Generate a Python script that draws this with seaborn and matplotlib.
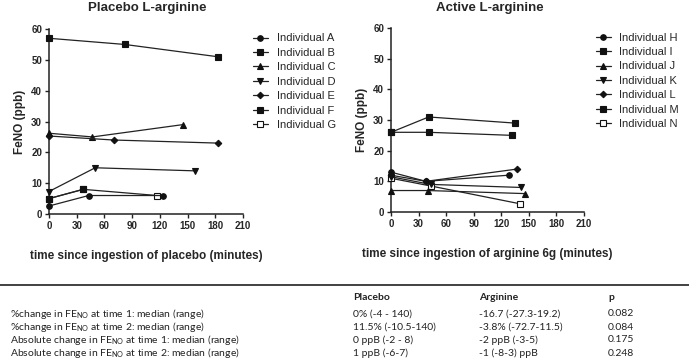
import matplotlib
matplotlib.use("Agg")
import matplotlib.pyplot as plt
import seaborn as sns

# placebo arm: time (min) and FeNO (ppb) per individual
placebo_names = ["Individual A", "Individual B", "Individual C", "Individual D",
                 "Individual E", "Individual F", "Individual G"]
placebo_t = [[0, 43, 123], [0, 82, 183], [0, 47, 145], [0, 50, 158],
             [0, 70, 183], [0, 37], [0, 37, 117]]
placebo_v = [[2.6, 6, 6], [57, 55, 51], [26.2, 25, 29], [7.3, 15, 14],
             [25.3, 24, 23], [5, 8], [5, 8, 6]]

# active arm
active_names = ["Individual H", "Individual I", "Individual J", "Individual K",
                "Individual L", "Individual M", "Individual N"]
active_t = [[0, 38, 128], [0, 41, 132], [0, 40, 146], [0, 43, 142],
            [0, 38, 137], [0, 41, 135], [0, 43, 140]]
active_v = [[13, 10, 12], [26, 26, 25], [7, 7, 6], [11.5, 9, 8],
            [12, 10, 14], [26, 31, 29], [11, 8.5, 2.7]]

markers = ["o", "s", "^", "v", "D", "s", "s"]
open_marker = [False, False, False, False, False, False, True]

# summary table
row_labels = ["%change in FE$_{\\mathregular{NO}}$ at time 1: median (range)",
              "%change in FE$_{\\mathregular{NO}}$ at time 2: median (range)",
              "Absolute change in FE$_{\\mathregular{NO}}$ at time 1: median (range)",
              "Absolute change in FE$_{\\mathregular{NO}}$ at time 2: median (range)"]
col_headers = ["Placebo", "Arginine", "p"]
placebo_col = ["0% (-4 - 140)", "11.5% (-10.5-140)", "0 ppB (-2 - 8)", "1 ppB (-6-7)"]
arginine_col = ["-16.7 (-27.3-19.2)", "-3.8% (-72.7-11.5)", "-2 ppB (-3-5)", "-1 (-8-3) ppB"]
p_col = ["0.082", "0.084", "0.175", "0.248"]

sns.set_style("ticks")
plt.rcParams["font.family"] = ["Liberation Sans", "DejaVu Sans"]
plt.rcParams["mathtext.default"] = "regular"

fig = plt.figure(figsize=(6.89, 3.62), dpi=100)
ax1 = fig.add_axes([0.0711, 0.4088, 0.2816, 0.511])
ax2 = fig.add_axes([0.5675, 0.4144, 0.2800, 0.508])


def draw_arm(ax, names, ts, vs, xlabel, legend_x):
    for i, name in enumerate(names):
        sns.lineplot(x=ts[i], y=vs[i], ax=ax, color="#222222", lw=0.9,
                     marker=markers[i], markersize=4 if markers[i] != "D" else 3.3,
                     markeredgecolor="#111111",
                     markerfacecolor="white" if open_marker[i] else "#111111",
                     markeredgewidth=0.8, label=name, clip_on=False,
                     zorder=3 if open_marker[i] else 4)
    ax.set_xlim(0, 210)
    ax.set_ylim(0, 60)
    ax.set_xticks(range(0, 211, 30))
    ax.set_yticks(range(0, 61, 10))
    sns.despine(ax=ax)
    for s in ["left", "bottom"]:
        ax.spines[s].set_linewidth(1.1)
        ax.spines[s].set_color("#222222")
    ax.tick_params(length=3, width=1, color="#222222", labelsize=7, pad=2)
    for lab in ax.get_xticklabels() + ax.get_yticklabels():
        lab.set_fontweight("bold")
    ax.set_xlabel(xlabel, fontsize=8.5, fontweight="bold", labelpad=14)
    ax.set_ylabel("FeNO (ppb)", fontsize=8.5, fontweight="bold", labelpad=4)
    ax.legend(loc="upper left", bbox_to_anchor=(legend_x, 1.0), frameon=False,
              fontsize=8, handlelength=1.3, handletextpad=0.8, labelspacing=0.4,
              borderaxespad=0)


draw_arm(ax1, placebo_names, placebo_t, placebo_v,
         "time since ingestion of placebo (minutes)", 1.03)
draw_arm(ax2, active_names, active_t, active_v,
         "time since ingestion of arginine 6g (minutes)", 1.04)

fig.text(147 / 689, 1 - 8 / 362, "Placebo L-arginine", ha="center", va="center",
         fontsize=9.5, fontweight="bold")
fig.text(490 / 689, 1 - 8 / 362, "Active L-arginine", ha="center", va="center",
         fontsize=9.5, fontweight="bold")

# table
fig.add_artist(plt.Line2D([0, 1], [1 - 285 / 362] * 2, color="#333333", lw=1.3))
tfont = dict(family=["Lato", "DejaVu Sans"], fontsize=7.5, va="center", color="#222222")
col_x = [353 / 689, 479 / 689, 608 / 689]
for x, h in zip(col_x, col_headers):
    fig.text(x, 1 - 298 / 362, h, fontweight="bold", **tfont)
row_y = [314, 327, 340, 353]
for i, y in enumerate(row_y):
    fy = 1 - y / 362
    fig.text(10 / 689, fy, row_labels[i], **tfont)
    fig.text(col_x[0], fy, placebo_col[i], **tfont)
    fig.text(col_x[1], fy, arginine_col[i], **tfont)
    fig.text(col_x[2], fy, p_col[i], **tfont)

fig.savefig("out.png", dpi=100)
